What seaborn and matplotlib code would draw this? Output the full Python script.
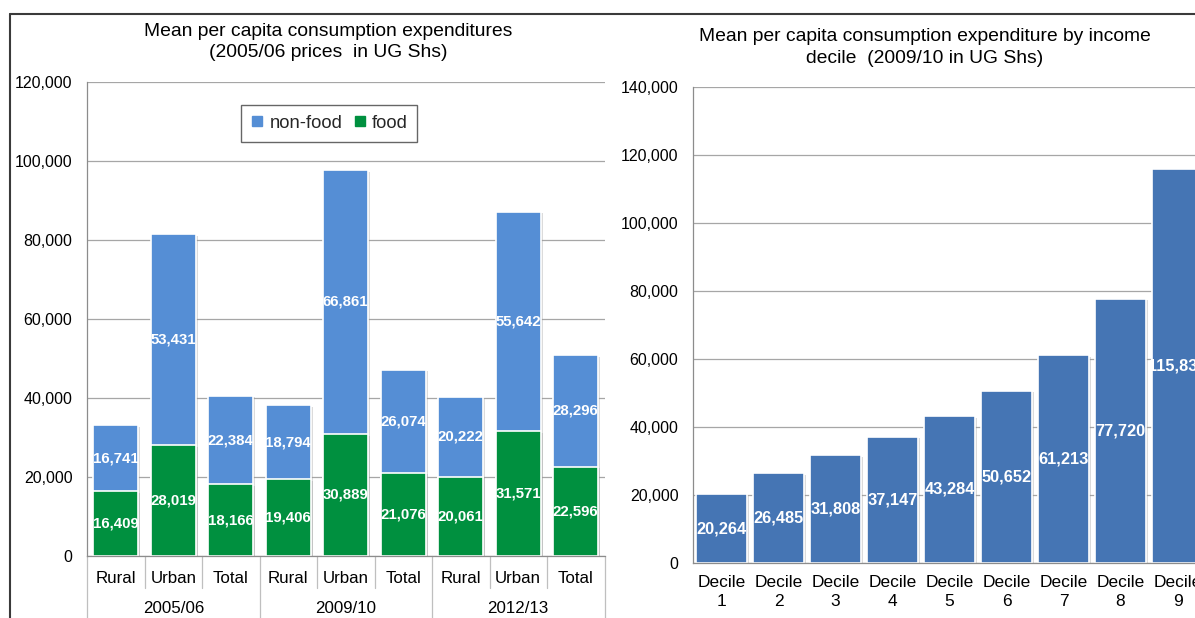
import matplotlib
matplotlib.use("Agg")
import matplotlib.pyplot as plt
import matplotlib.patheffects as pe
from matplotlib.lines import Line2D
from matplotlib.ticker import FuncFormatter, MultipleLocator
import pandas as pd
import seaborn as sns

# ---- data -------------------------------------------------------------
years = ["2005/06", "2009/10", "2012/13"]
areas = ["Rural", "Urban", "Total"]
food = [16409, 28019, 18166, 19406, 30889, 21076, 20061, 31571, 22596]
non_food = [16741, 53431, 22384, 18794, 66861, 26074, 20222, 55642, 28296]

decile_labels = ["Decile\n1", "Decile\n2", "Decile\n3", "Decile\n4", "Decile\n5",
                 "Decile\n6", "Decile\n7", "Decile\n8", "Decile\n9"]
decile_values = [20264, 26485, 31808, 37147, 43284, 50652, 61213, 77720, 115834]

left_title = "Mean per capita consumption expenditures\n(2005/06 prices  in UG Shs)"
right_title = "Mean per capita consumption expenditure by income\ndecile  (2009/10 in UG Shs)"

# ---- style ------------------------------------------------------------
sns.set_theme(style="white")
plt.rcParams["font.family"] = ["Liberation Sans", "DejaVu Sans"]

NONFOOD_C = "#558ED5"
FOOD_C = "#00903F"
DECILE_C = "#4575B4"
GRID_C = "#A6A6A6"
AXIS_C = "#8C8C8C"

W, H = 1195, 618
fig = plt.figure(figsize=(W / 100, H / 100), dpi=100)
fig.patch.set_facecolor("white")

axL = fig.add_axes([87 / W, 1 - 556 / H, 517.5 / W, 474 / H])
axR = fig.add_axes([693 / W, 1 - 563 / H, 570 / W, 476 / H])

comma = FuncFormatter(lambda v, _: f"{v:,.0f}")
shadow = [pe.SimplePatchShadow(offset=(1.6, -1.2), shadow_rgbFace="#9a9a9a", alpha=0.35),
          pe.Normal()]

# ---- left: stacked food / non-food by area and year -------------------
keys = [f"{y} {a}" for y in years for a in areas]
totals = [f + n for f, n in zip(food, non_food)]
df_left = pd.DataFrame({"key": keys, "food": food, "non_food": non_food, "total": totals})

sns.barplot(data=df_left, x="key", y="total", order=keys, color=NONFOOD_C,
            saturation=1, width=0.78, edgecolor="white", linewidth=1.2, ax=axL)
sns.barplot(data=df_left, x="key", y="food", order=keys, color=FOOD_C,
            saturation=1, width=0.78, edgecolor="white", linewidth=1.2, ax=axL)
for p in axL.patches:
    p.set_path_effects(shadow)

for i, (f, n) in enumerate(zip(food, non_food)):
    axL.text(i, f / 2, f"{f:,}", ha="center", va="center", color="white",
             fontsize=10.8, fontweight="bold")
    axL.text(i, f + n / 2, f"{n:,}", ha="center", va="center", color="white",
             fontsize=10.8, fontweight="bold")

axL.set_ylim(0, 120000)
axL.set_xlim(-0.5, len(keys) - 0.5)
axL.yaxis.set_major_locator(MultipleLocator(20000))
axL.yaxis.set_major_formatter(comma)
axL.tick_params(axis="x", length=0, pad=10.5, labelsize=12.2, colors="black")
axL.tick_params(axis="y", length=4, width=0.8, pad=6.5, labelsize=11.5,
                color=AXIS_C, labelcolor="black")
axL.set_xticks(range(len(keys)))
axL.set_xticklabels([k.split(" ")[1] for k in keys])
axL.set_xlabel("")
axL.set_ylabel("")
axL.grid(axis="y", color=GRID_C, linewidth=0.9)
axL.grid(axis="x", visible=False)
axL.set_axisbelow(True)
for s in ["top", "right"]:
    axL.spines[s].set_visible(False)
for s in ["left", "bottom"]:
    axL.spines[s].set_color(AXIS_C)
    axL.spines[s].set_linewidth(0.9)

# category separators beneath the axis
xt = axL.get_xaxis_transform()
for b in range(len(keys) + 1):
    x = b - 0.5
    y_end = -0.14 if b % 3 == 0 else -0.068
    axL.plot([x, x], [0, y_end], transform=xt, color="#BFBFBF",
             linewidth=0.9, clip_on=False)
for g, yr in enumerate(years):
    axL.annotate(yr, xy=(g * 3 + 1, 0), xycoords=xt, xytext=(0, -37.5),
                 textcoords="offset points", ha="center", va="center",
                 fontsize=12.2, color="black")

handles = [Line2D([], [], marker="s", linestyle="none", markersize=7,
                  markerfacecolor=NONFOOD_C, markeredgecolor=NONFOOD_C),
           Line2D([], [], marker="s", linestyle="none", markersize=7,
                  markerfacecolor=FOOD_C, markeredgecolor=FOOD_C)]
leg = axL.legend(handles, ["non-food", "food"], loc="center",
                 bbox_to_anchor=(0.468, 0.913), ncol=2, fontsize=13.2,
                 frameon=True, fancybox=False, edgecolor="#404040",
                 handlelength=0.7, handletextpad=0.3, columnspacing=0.6,
                 borderpad=0.55, borderaxespad=0.0)
leg.get_frame().set_linewidth(1.0)

# ---- right: expenditure by income decile -----------------------------
df_right = pd.DataFrame({"decile": decile_labels, "value": decile_values})
sns.barplot(data=df_right, x="decile", y="value", order=decile_labels,
            color=DECILE_C, saturation=1, width=0.89, edgecolor="white",
            linewidth=1.2, ax=axR)
for p in axR.patches:
    p.set_path_effects(shadow)
for i, v in enumerate(decile_values):
    axR.text(i, v / 2, f"{v:,}", ha="center", va="center", color="white",
             fontsize=11.8, fontweight="bold", clip_on=False)

axR.set_ylim(0, 140000)
axR.set_xlim(-0.5, 9.5)
axR.yaxis.set_major_locator(MultipleLocator(20000))
axR.yaxis.set_major_formatter(comma)
axR.set_xticks([b - 0.5 for b in range(11)], minor=True)
axR.tick_params(axis="x", which="major", length=0, pad=8.5, labelsize=12.5,
                colors="black")
axR.tick_params(axis="x", which="minor", length=5, width=0.8, color=AXIS_C)
axR.tick_params(axis="y", length=4, width=0.8, pad=6.5, labelsize=11.5,
                color=AXIS_C, labelcolor="black")
axR.set_xticks(range(len(decile_labels)))
axR.set_xticklabels(decile_labels, linespacing=1.32)
axR.set_xlabel("")
axR.set_ylabel("")
axR.grid(axis="y", color=GRID_C, linewidth=0.9)
axR.grid(axis="x", visible=False)
axR.set_axisbelow(True)
for s in ["top", "right"]:
    axR.spines[s].set_visible(False)
for s in ["left", "bottom"]:
    axR.spines[s].set_color(AXIS_C)
    axR.spines[s].set_linewidth(0.9)

# ---- titles and outer frame ------------------------------------------
fig.text(328 / W, 1 - 42 / H, left_title, ha="center", va="center",
         fontsize=13.9, linespacing=1.38, color="black")
fig.text(924.5 / W, 1 - 47.5 / H, right_title, ha="center", va="center",
         fontsize=13.9, linespacing=1.4, color="black")

fig.add_artist(Line2D([10 / W, 1.0], [1 - 14 / H, 1 - 14 / H],
                      transform=fig.transFigure, color="#3A3A3A", linewidth=1.5))
fig.add_artist(Line2D([10 / W, 10 / W], [0.0, 1 - 14 / H],
                      transform=fig.transFigure, color="#3A3A3A", linewidth=1.5))

fig.savefig("out.png", dpi=100, facecolor="white")
